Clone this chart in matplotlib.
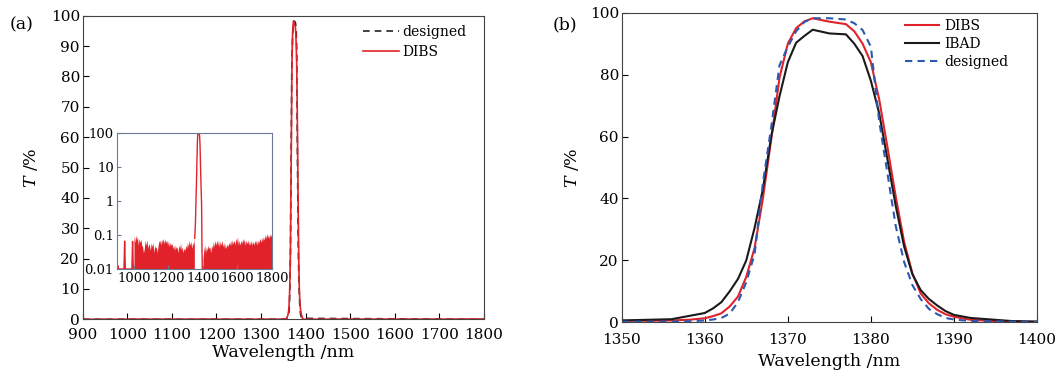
import numpy as np
import matplotlib.pyplot as plt
from matplotlib.ticker import FixedLocator, FixedFormatter, NullLocator

plt.rcParams['font.family'] = 'DejaVu Serif'
plt.rcParams['mathtext.fontset'] = 'dejavuserif'
plt.rcParams['font.size'] = 11

RED = '#e2222b'
BLUE = '#2b59b0'

# (b) measured/designed transmittance around the pass band
wl_b = [1350, 1353, 1356, 1358, 1360, 1361, 1362, 1363, 1364, 1365, 1366, 1367, 1368,
        1369, 1370, 1371, 1372, 1373, 1375, 1377, 1378, 1379, 1380, 1381, 1382, 1383,
        1384, 1385, 1386, 1387, 1388, 1389, 1390, 1392, 1395, 1397, 1400]
t_dibs = [0.5, 0.5, 0.6, 0.8, 1.3, 2.0, 2.9, 5.1, 8.3, 14.7, 24.0, 40.0, 59.0,
          79.0, 90.0, 95.0, 97.2, 98.2, 97.1, 96.3, 94.0, 90.0, 84.0, 72.0, 56.5, 40.5,
          26.0, 15.8, 9.3, 6.1, 4.0, 2.6, 1.8, 0.8, 0.4, 0.3, 0.2]
t_ibad = [0.6, 0.8, 1.0, 2.0, 3.0, 4.5, 6.5, 10.0, 14.0, 20.0, 30.5, 43.0, 60.0,
          73.0, 84.0, 90.3, 92.5, 94.5, 93.3, 93.0, 90.0, 86.0, 78.0, 67.5, 52.5, 37.5,
          24.5, 15.5, 10.4, 7.5, 5.4, 3.6, 2.4, 1.4, 0.8, 0.4, 0.2]
t_design = [0.2, 0.2, 0.2, 0.3, 0.6, 0.9, 1.4, 2.8, 6.5, 13.0, 22.0, 45.0, 63.0,
            83.0, 89.0, 94.0, 97.0, 98.2, 98.2, 97.8, 96.6, 94.4, 89.0, 65.0, 48.0, 31.0,
            19.5, 12.0, 7.5, 4.3, 2.6, 1.4, 0.9, 0.4, 0.3, 0.2, 0.2]

# (a) wide scan: DIBS background ripple (%), 5 nm steps
bg_left = [0.095, 0.06, 0.1, 0.07, 0.09, 0.05, 0.08, 0.06, 0.075, 0.05,
           0.045, 0.03, 0.04, 0.07, 0.05, 0.072, 0.04, 0.055, 0.05, 0.035,
           0.06, 0.045, 0.06, 0.03, 0.05, 0.04, 0.045, 0.03, 0.05, 0.065,
           0.07, 0.05, 0.075, 0.06, 0.08, 0.055, 0.075, 0.06, 0.07, 0.05,
           0.068, 0.045, 0.06, 0.05, 0.057, 0.04, 0.05, 0.035, 0.05, 0.04,
           0.045, 0.03, 0.05, 0.04, 0.057, 0.035, 0.045, 0.03, 0.041, 0.035,
           0.05, 0.04, 0.06, 0.045, 0.07, 0.05, 0.065, 0.04, 0.06, 0.05, 0.08]
bg_right = [0.02, 0.035, 0.05, 0.03, 0.045, 0.035, 0.05, 0.04, 0.045, 0.03,
            0.05, 0.04, 0.065, 0.045, 0.07, 0.05, 0.072, 0.05, 0.07, 0.045,
            0.065, 0.05, 0.07, 0.045, 0.06, 0.04, 0.055, 0.04, 0.055, 0.045,
            0.06, 0.05, 0.07, 0.05, 0.072, 0.055, 0.07, 0.05, 0.08, 0.06,
            0.09, 0.05, 0.07, 0.05, 0.07, 0.055, 0.08, 0.06, 0.075, 0.05,
            0.07, 0.055, 0.072, 0.05, 0.065, 0.05, 0.07, 0.05, 0.065, 0.05,
            0.07, 0.055, 0.072, 0.05, 0.07, 0.06, 0.08, 0.06, 0.085, 0.065,
            0.09, 0.07, 0.1, 0.08, 0.11, 0.085, 0.1, 0.08, 0.11, 0.09, 0.11]
wl_bg_left = np.linspace(1000, 1350, len(bg_left))
wl_bg_right = np.linspace(1400, 1800, len(bg_right))
# isolated spikes below 1000 nm
spike_wl = [903, 907, 911, 942, 946, 950, 988, 992, 996]
spike_t = [0.01, 0.0125, 0.01, 0.01, 0.066, 0.01, 0.01, 0.065, 0.01]
# DIBS peak on the wide scan
peak_wl = [1352, 1356, 1358] + wl_b[4:34] + [1394, 1396, 1398]
peak_t = [0.08, 0.2, 0.5] + t_dibs[4:34] + [0.05, 0.01, 0.01]

fig = plt.figure(figsize=(10.6, 3.72), dpi=100)

# ---------- (a) ----------
ax1 = fig.add_axes([0.078, 0.1417, 0.3786, 0.816])
des_wl = [900, 1352] + wl_b[3:35] + [1800]
des_t = [0, 0] + t_design[3:35] + [0]
ax1.plot(des_wl, des_t, color='#222222', ls=(0, (4, 3)), lw=1.2, label='designed')
dibs_wl = [900] + spike_wl + list(wl_bg_left) + peak_wl + list(wl_bg_right)
dibs_t = [0.01] + spike_t + bg_left + peak_t + bg_right
ax1.plot(dibs_wl, dibs_t, color=RED, lw=1.2, label='DIBS')
ax1.set_xlim(900, 1800)
ax1.set_ylim(0, 100)
ax1.set_xticks(range(900, 1801, 100))
ax1.set_yticks(range(0, 101, 10))
ax1.tick_params(direction='in', length=4, top=False, right=False, pad=2)
ax1.tick_params(axis='x', pad=6)
ax1.set_xlabel('Wavelength /nm', fontsize=12.5, labelpad=2)
ax1.set_ylabel(r'$T$ /%', fontsize=12.5, labelpad=8)
for s in ax1.spines.values():
    s.set_color('#444444')
ax1.legend(loc='upper right', bbox_to_anchor=(0.955, 0.97), frameon=False,
           fontsize=10, handlelength=2.6, handletextpad=0.2, labelspacing=0.45,
           borderpad=0, borderaxespad=0)
fig.text(0.009, 0.933, '(a)', fontsize=12.5, va='center')

# inset, log scale
axi = fig.add_axes([0.1101, 0.2769, 0.1465, 0.3656])
axi.fill_between(wl_bg_left, 0.01, bg_left, color=RED, lw=0)
axi.fill_between(wl_bg_right, 0.01, bg_right, color=RED, lw=0)
axi.plot(spike_wl, spike_t, color=RED, lw=1.0)
axi.plot(peak_wl, peak_t, color=RED, lw=1.0)
axi.set_yscale('log')
axi.set_xlim(900, 1800)
axi.set_ylim(0.01, 100)
axi.set_xticks(range(1000, 1801, 200))
axi.yaxis.set_major_locator(FixedLocator([0.01, 0.1, 1, 10, 100]))
axi.yaxis.set_major_formatter(FixedFormatter(['0.01', '0.1', '1', '10', '100']))
axi.yaxis.set_minor_locator(NullLocator())
axi.tick_params(direction='in', length=3, labelsize=9.5, pad=2, color='#6c7a96')
for s in axi.spines.values():
    s.set_color('#6c7a96')

# ---------- (b) ----------
ax2 = fig.add_axes([0.5865, 0.1336, 0.3918, 0.8323])
ax2.plot(wl_b, t_dibs, color=RED, lw=1.5, label='DIBS')
ax2.plot(wl_b, t_ibad, color='#1a1a1a', lw=1.5, label='IBAD')
ax2.plot(wl_b, t_design, color=BLUE, lw=1.5, ls=(0, (3.5, 2.5)), label='designed')
ax2.set_xlim(1350, 1400)
ax2.set_ylim(0, 100)
ax2.set_xticks(range(1350, 1401, 10))
ax2.set_yticks(range(0, 101, 20))
ax2.tick_params(direction='in', length=4, top=False, right=False, pad=2)
ax2.tick_params(axis='x', pad=8)
ax2.set_xlabel('Wavelength /nm', fontsize=12.5, labelpad=4)
ax2.set_ylabel(r'$T$ /%', fontsize=12.5, labelpad=6)
for s in ax2.spines.values():
    s.set_color('#444444')
ax2.legend(loc='upper right', bbox_to_anchor=(0.93, 0.98), frameon=False,
           fontsize=10, handlelength=2.45, handletextpad=0.35, labelspacing=0.3,
           borderpad=0, borderaxespad=0)
fig.text(0.521, 0.933, '(b)', fontsize=12.5, va='center')

fig.savefig('out.png', dpi=100)
